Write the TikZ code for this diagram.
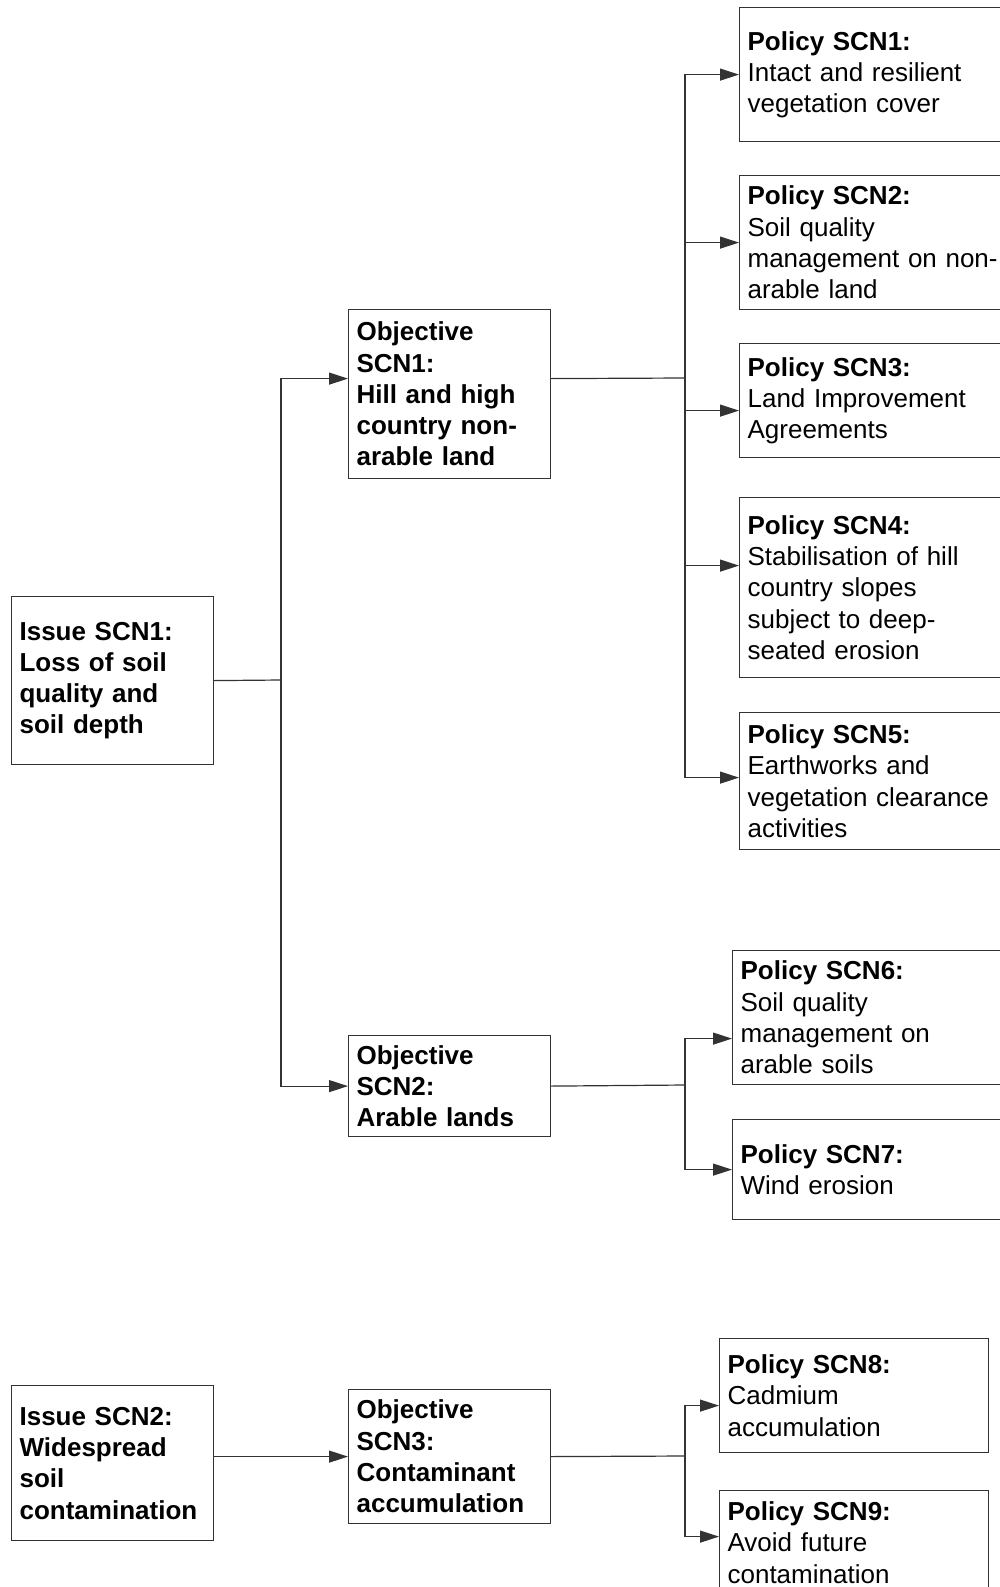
\documentclass[tikz,border=0pt]{standalone}
\usepackage{fontspec}
\setmainfont{Liberation Sans}
\usetikzlibrary{arrows.meta}

\tikzset{
  basebox/.style={draw=black!80, line width=1.2pt, anchor=north west, align=left,
    inner xsep=8pt, inner ysep=0pt, font=\fontsize{26}{31.3}\selectfont},
  issuebox/.style={basebox, font=\fontsize{26}{31.3}\selectfont\bfseries, text width=186pt},
  objbox/.style={issuebox},
  polbox/.style={basebox, text width=253pt},
  conn/.style={draw=black!80, line width=1.2pt},
  arr/.style={conn, -{Triangle[length=19pt,width=12pt]}}
}

\begin{document}
\begin{tikzpicture}[x=1pt,y=-1pt]
        \useasboundingbox (0,0) rectangle (1000,1587);
        \clip (0,0) rectangle (1000,1587);
        % issues and objectives
        \node[issuebox, minimum height=168pt] (iss1) at (11,596) {Issue SCN1:\\Loss of soil\\quality and\\soil depth};
        \node[objbox, minimum height=169pt] (obj1) at (348,309) {Objective\\SCN1:\\Hill and high\\country non-\\arable land};
        \node[objbox, minimum height=101pt] (obj2) at (348,1035) {Objective\\SCN2:\\Arable lands};
        \node[issuebox, minimum height=155pt] (iss2) at (11,1385) {Issue SCN2:\\Widespread\\soil\\contamination};
        \node[objbox, minimum height=134pt] (obj3) at (348,1389) {Objective\\SCN3:\\Contaminant\\accumulation};
        % policies
        \node[polbox, minimum height=134pt] (pol1) at (739,7) {\textbf{Policy SCN1:}\\Intact and resilient\\vegetation cover};
        \node[polbox, minimum height=134pt] (pol2) at (739,175) {\textbf{Policy SCN2:}\\Soil quality\\management on non-\\arable land};
        \node[polbox, minimum height=114pt] (pol3) at (739,343) {\textbf{Policy SCN3:}\\Land Improvement\\Agreements};
        \node[polbox, minimum height=180pt] (pol4) at (739,497) {\textbf{Policy SCN4:}\\Stabilisation of hill\\country slopes\\subject to deep-\\seated erosion};
        \node[polbox, minimum height=137pt] (pol5) at (739,712) {\textbf{Policy SCN5:}\\Earthworks and\\vegetation clearance\\activities};
        \node[polbox, minimum height=134pt] (pol6) at (732,950) {\textbf{Policy SCN6:}\\Soil quality\\management on\\arable soils};
        \node[polbox, minimum height=100pt] (pol7) at (732,1119) {\textbf{Policy SCN7:}\\Wind erosion};
        \node[polbox, minimum height=114pt] (pol8) at (719,1338) {\textbf{Policy SCN8:}\\Cadmium\\accumulation};
        \node[polbox, minimum height=104pt] (pol9) at (719,1490) {\textbf{Policy SCN9:}\\Avoid future\\contamination};
        % junctions
        \coordinate (ja) at (281,680);
        \coordinate (jb) at (685,378);
        \coordinate (jc) at (685,1085);
        \coordinate (jd) at (685,1456);
        % connectors
        \draw[conn] (iss1.east) -- (ja);
        \draw[arr] (ja) |- ([yshift=15.5pt]obj1.west);
        \draw[arr] (ja) |- (obj2.west);
        \draw[conn] ([yshift=15.5pt]obj1.east) -- (jb);
        \draw[arr] (jb) |- (pol1.west);
        \draw[arr] (jb) |- (pol2.west);
        \draw[arr] (jb) |- ([yshift=-10pt]pol3.west);
        \draw[arr] (jb) |- ([yshift=22pt]pol4.west);
        \draw[arr] (jb) |- ([yshift=3.5pt]pol5.west);
        \draw[conn] (obj2.east) -- (jc);
        \draw[arr] (jc) |- ([yshift=-21pt]pol6.west);
        \draw[arr] (jc) |- (pol7.west);
        \draw[arr] (iss2.east |- obj3.west) -- (obj3.west);
        \draw[conn] (obj3.east) -- (jd);
        \draw[arr] (jd) |- ([yshift=-10pt]pol8.west);
        \draw[arr] (jd) |- ([yshift=6pt]pol9.west);
    \end{tikzpicture}
\end{document}
